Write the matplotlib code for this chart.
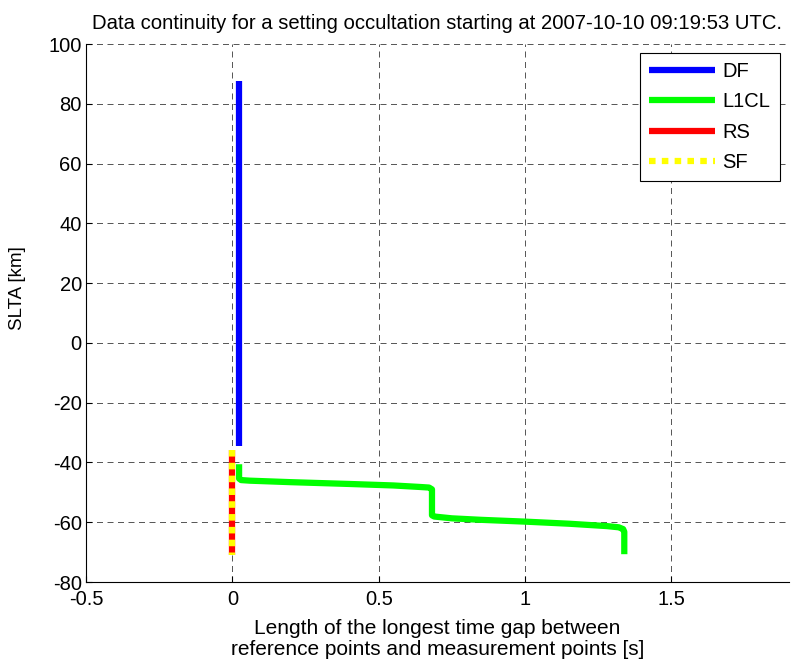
import matplotlib
matplotlib.use("Agg")
import matplotlib.pyplot as plt
import numpy as np

plt.rcParams['font.family'] = ['Liberation Sans', 'DejaVu Sans']
plt.rcParams['axes.unicode_minus'] = False

# ---- data ----
df_x = [0.023, 0.023]
df_y = [87.5, -34.5]

l1cl_x = [0.023, 0.023, 0.03, 0.06, 0.2, 0.4, 0.55, 0.64, 0.672, 0.682,
          0.682, 0.69, 0.75, 0.85, 1.0, 1.15, 1.28, 1.32, 1.335, 1.339, 1.339]
l1cl_y = [-40.6, -45.4, -45.9, -46.1, -46.6, -47.2, -47.7, -48.2, -48.4, -49.0,
          -57.7, -58.1, -58.7, -59.2, -59.8, -60.5, -61.3, -61.7, -62.3, -63.2, -70.7]

rs_x = [0.0, 0.0]
rs_y = [-36.0, -71.0]

sf_x = [0.0, 0.0]
sf_y = [-36.0, -71.0]

labels = ['DF', 'L1CL', 'RS', 'SF']
xticks = [-0.5, 0, 0.5, 1, 1.5]
xticklabels = ['-0.5', '0', '0.5', '1', '1.5']
yticks = [-80, -60, -40, -20, 0, 20, 40, 60, 80, 100]

title = 'Data continuity for a setting occultation starting at 2007-10-10 09:19:53 UTC.'
xlabel = 'Length of the longest time gap between\nreference points and measurement points [s]'
ylabel = 'SLTA [km]'

# ---- figure ----
W, H = 791, 666
fig = plt.figure(figsize=(W / 100, H / 100), dpi=100)
ax = fig.add_axes([86 / W, (H - 582) / H, 702.5 / W, 538 / H])

lw = 4.5
ax.plot(df_x, df_y, color='#0000ff', lw=lw, solid_capstyle='butt', label=labels[0], zorder=3)
ax.plot(l1cl_x, l1cl_y, color='#00ff00', lw=lw, solid_capstyle='butt',
        solid_joinstyle='round', label=labels[1], zorder=3)
ax.plot(rs_x, rs_y, color='#ff0000', lw=lw, solid_capstyle='butt', label=labels[2], zorder=3)
ax.plot(sf_x, sf_y, color='#ffff00', lw=lw, linestyle=(0, (1.05, 1.0)),
        dash_capstyle='butt', label=labels[3], zorder=4)

ax.set_xlim(-0.5, 1.9)
ax.set_ylim(-80, 100)
ax.set_xticks(xticks)
ax.set_xticklabels(xticklabels)
ax.set_yticks(yticks)

ax.spines['top'].set_visible(False)
ax.spines['right'].set_visible(False)
for s in ('left', 'bottom'):
    ax.spines[s].set_linewidth(0.8)
ax.tick_params(direction='in', length=4, width=0.8, labelsize=14.5)
ax.tick_params(axis='x', pad=6)
ax.tick_params(axis='y', pad=3)

ax.grid(True, color='0.35', linestyle=(0, (6, 4.5)), linewidth=0.72)
ax.set_axisbelow(True)

ax.set_title(title, fontsize=14.6, pad=11)
ax.set_xlabel(xlabel, fontsize=15, labelpad=7, linespacing=1.15)
ax.set_ylabel(ylabel, fontsize=13.5)
ax.yaxis.set_label_coords(-0.085, 0.546)

leg = ax.legend(loc='upper left', bbox_to_anchor=(640 / W, 1 - 53 / H),
                bbox_transform=fig.transFigure, fontsize=14.5, frameon=True,
                fancybox=False, edgecolor='black', framealpha=1,
                handlelength=3.25, handletextpad=0.4, labelspacing=0.56,
                borderpad=0.45, borderaxespad=0)
leg.get_frame().set_linewidth(0.8)

fig.savefig('out.png', dpi=100)
